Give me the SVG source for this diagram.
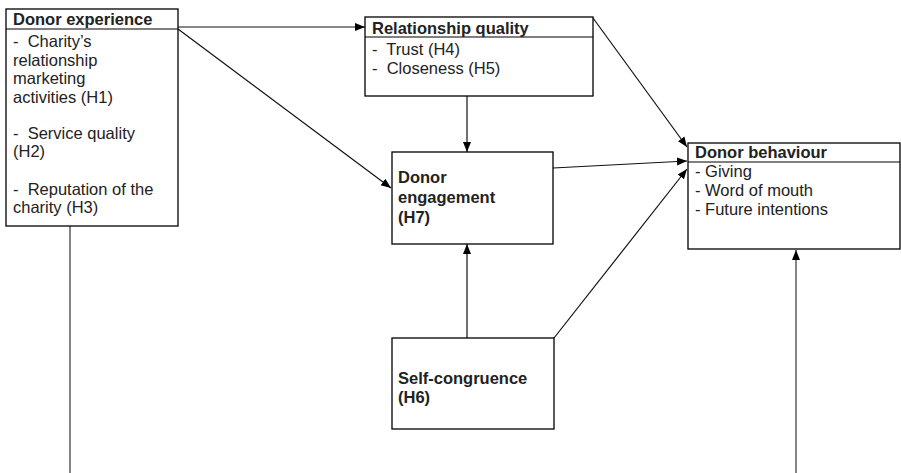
<svg xmlns="http://www.w3.org/2000/svg" width="901" height="473" viewBox="0 0 901 473">
<style>
.box{fill:#fff;stroke:#000;stroke-width:1.3}
.sep{stroke:#000;stroke-width:1.2}
.t{font-family:"Liberation Sans",Arial,sans-serif;font-size:16.5px;fill:#222}
.b{font-weight:bold}
.e{stroke:#111;stroke-width:1.2;fill:none}
.g{stroke:#666;stroke-width:1.6;fill:none}
</style>
<defs>
<marker id="ah" viewBox="0 0 10 10" refX="10" refY="5" markerWidth="10" markerHeight="10" markerUnits="userSpaceOnUse" orient="auto">
<path d="M0,1 L10,5 L0,9 z" fill="#000"/>
</marker>
</defs>
<rect width="901" height="473" fill="#fff"/>
<g id="connectors">
<line class="e" x1="178" y1="27" x2="365" y2="27" marker-end="url(#ah)"/>
<line class="e" x1="178" y1="29" x2="391" y2="188" marker-end="url(#ah)"/>
<line class="e" x1="467" y1="96" x2="467" y2="152" marker-end="url(#ah)"/>
<line class="e" x1="593" y1="18" x2="687" y2="147" marker-end="url(#ah)"/>
<line class="e" x1="553" y1="168" x2="687" y2="161" marker-end="url(#ah)"/>
<line class="e" x1="467" y1="338" x2="467" y2="244" marker-end="url(#ah)"/>
<line class="e" x1="554" y1="338" x2="687" y2="169" marker-end="url(#ah)"/>
<line class="g" x1="70" y1="226" x2="70" y2="473"/>
<line class="g" x1="796" y1="473" x2="796" y2="250" marker-end="url(#ah)"/>
</g>
<g id="donor-experience">
<rect class="box" x="6" y="9" width="172" height="217"/>
<line class="sep" x1="6" y1="29" x2="178" y2="29"/>
<text class="t b" x="13" y="25">Donor experience</text>
<text class="t" x="13" y="47" xml:space="preserve">-  Charity’s</text>
<text class="t" x="13" y="66">relationship</text>
<text class="t" x="13" y="84">marketing</text>
<text class="t" x="13" y="103">activities (H1)</text>
<text class="t" x="13" y="139" xml:space="preserve">-  Service quality</text>
<text class="t" x="13" y="157">(H2)</text>
<text class="t" x="13" y="195" xml:space="preserve">-  Reputation of the</text>
<text class="t" x="13" y="213">charity (H3)</text>
</g>
<g id="relationship-quality">
<rect class="box" x="365" y="17" width="228" height="79"/>
<line class="sep" x1="365" y1="37" x2="593" y2="37"/>
<text class="t b" x="372" y="34">Relationship quality</text>
<text class="t" x="372" y="55" xml:space="preserve">-  Trust (H4)</text>
<text class="t" x="372" y="74" xml:space="preserve">-  Closeness (H5)</text>
</g>
<g id="donor-engagement">
<rect class="box" x="392" y="152" width="161" height="92"/>
<text class="t b" x="398" y="183">Donor</text>
<text class="t b" x="398" y="203">engagement</text>
<text class="t b" x="398" y="223">(H7)</text>
</g>
<g id="donor-behaviour">
<rect class="box" x="688" y="143" width="212" height="106"/>
<line class="sep" x1="688" y1="162" x2="900" y2="162"/>
<text class="t b" x="695" y="158">Donor behaviour</text>
<text class="t" x="695" y="177">- Giving</text>
<text class="t" x="695" y="196">- Word of mouth</text>
<text class="t" x="695" y="215">- Future intentions</text>
</g>
<g id="self-congruence">
<rect class="box" x="392" y="338" width="162" height="91"/>
<text class="t b" x="398" y="384">Self-congruence</text>
<text class="t b" x="398" y="403">(H6)</text>
</g>
</svg>
